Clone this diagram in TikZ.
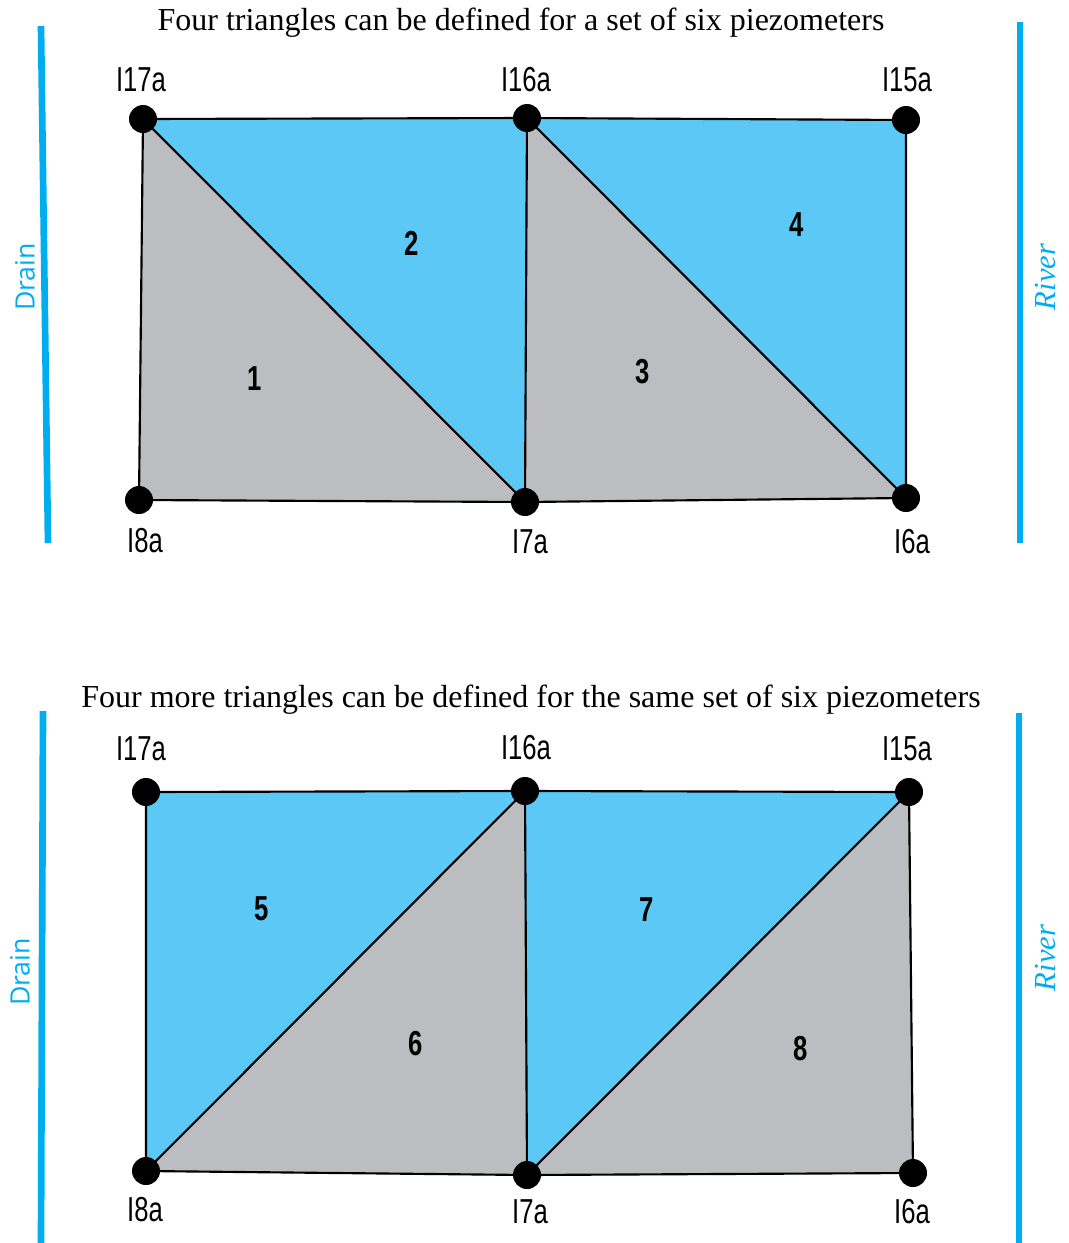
\documentclass[tikz,border=0pt]{standalone}
\usepackage{fontspec}
\setmainfont{Liberation Serif}
\newfontfamily\condfont[FakeStretch=0.74]{Liberation Sans}
\newfontfamily\drainfont{Open Sans}
\definecolor{triblue}{HTML}{5BC8F5}
\definecolor{trigray}{HTML}{BCBDC0}
\definecolor{linecyan}{HTML}{00AEEF}
\begin{document}
\begin{tikzpicture}[x=0.75pt,y=-0.75pt,
  edge/.style={draw=black,line width=1.6pt,line join=round},
  bluetri/.style={fill=triblue},
  graytri/.style={fill=trigray},
  pt/.style={circle,fill=black,inner sep=0pt,minimum size=21pt},
  ptlabel/.style={font=\condfont\fontsize{26}{28}\selectfont,inner sep=0pt,anchor=base},
  trinum/.style={font=\condfont\bfseries\fontsize{26}{28}\selectfont,inner sep=0pt},
  title/.style={font=\fontsize{24}{26}\selectfont,inner sep=0pt,anchor=base},
  bank/.style={draw=linecyan,line width=5pt},
  drainlbl/.style={text=linecyan,font=\drainfont\fontsize{20}{22}\selectfont,rotate=90,inner sep=0pt},
  riverlbl/.style={text=linecyan,font=\itshape\fontsize{23}{25}\selectfont,rotate=90,inner sep=0pt}]
\useasboundingbox (0,0) rectangle (1068,1243);

% ---------- top diagram ----------
\coordinate (A1) at (143,119);
\coordinate (B1) at (527,118);
\coordinate (C1) at (906,120);
\coordinate (D1) at (139,500);
\coordinate (E1) at (525,502);
\coordinate (F1) at (906,498);

\path[graytri] (A1) -- (E1) -- (D1) -- cycle;
\path[bluetri] (A1) -- (B1) -- (E1) -- cycle;
\path[graytri] (B1) -- (F1) -- (E1) -- cycle;
\path[bluetri] (B1) -- (C1) -- (F1) -- cycle;
\draw[edge] (A1) -- (B1) -- (C1) -- (F1) -- (E1) -- (D1) -- cycle;
\draw[edge] (A1) -- (E1) -- (B1) -- (F1);

\foreach \p in {A1,B1,C1,D1,E1,F1} \node[pt] (n\p) at (\p) {};

\node[ptlabel] (lA1) at (141,91) {I17a};
\node[ptlabel] (lB1) at (526,91) {I16a};
\node[ptlabel] (lC1) at (907,91) {I15a};
\node[ptlabel] (lD1) at (145,552) {I8a};
\node[ptlabel] (lE1) at (530,553) {I7a};
\node[ptlabel] (lF1) at (912,553) {I6a};

\node[trinum] (t1) at (255,379) {1};
\node[trinum] (t2) at (412,243) {2};
\node[trinum] (t3) at (643,372) {3};
\node[trinum] (t4) at (797,225) {4};

\node[title] (title1) at (521,30) {Four triangles can be defined for a set of six piezometers};

\coordinate (dr1a) at (41,26);
\coordinate (dr1b) at (48,543);
\draw[bank] (dr1a) -- (dr1b);
\coordinate (rv1a) at (1020,22);
\coordinate (rv1b) at (1020,543);
\draw[bank] (rv1a) -- (rv1b);
\node[drainlbl] (drain1) at (25,277) {Drain};
\node[riverlbl] (river1) at (1045,277) {River};

% ---------- bottom diagram ----------
\coordinate (A2) at (146,792);
\coordinate (B2) at (525,791);
\coordinate (C2) at (909,792);
\coordinate (D2) at (146,1171);
\coordinate (E2) at (527,1175);
\coordinate (F2) at (913,1173);

\path[bluetri] (A2) -- (B2) -- (D2) -- cycle;
\path[graytri] (B2) -- (E2) -- (D2) -- cycle;
\path[bluetri] (B2) -- (C2) -- (E2) -- cycle;
\path[graytri] (C2) -- (F2) -- (E2) -- cycle;
\draw[edge] (A2) -- (B2) -- (C2) -- (F2) -- (E2) -- (D2) -- cycle;
\draw[edge] (D2) -- (B2) -- (E2) -- (C2);

\foreach \p in {A2,B2,C2,D2,E2,F2} \node[pt] (n\p) at (\p) {};

\node[ptlabel] (lA2) at (141,760) {I17a};
\node[ptlabel] (lB2) at (526,759) {I16a};
\node[ptlabel] (lC2) at (907,760) {I15a};
\node[ptlabel] (lD2) at (145,1221) {I8a};
\node[ptlabel] (lE2) at (530,1223) {I7a};
\node[ptlabel] (lF2) at (912,1223) {I6a};

\node[trinum] (t5) at (262,909) {5};
\node[trinum] (t6) at (416,1044) {6};
\node[trinum] (t7) at (647,910) {7};
\node[trinum] (t8) at (801,1049) {8};

\node[title] (title2) at (531,707) {Four more triangles can be defined for the same set of six piezometers};

\coordinate (dr2a) at (43,711);
\coordinate (dr2b) at (41,1243);
\draw[bank] (dr2a) -- (dr2b);
\coordinate (rv2a) at (1019,713);
\coordinate (rv2b) at (1019,1243);
\draw[bank] (rv2a) -- (rv2b);
\node[drainlbl] (drain2) at (20,972) {Drain};
\node[riverlbl] (river2) at (1045,958) {River};
\end{tikzpicture}
\end{document}
